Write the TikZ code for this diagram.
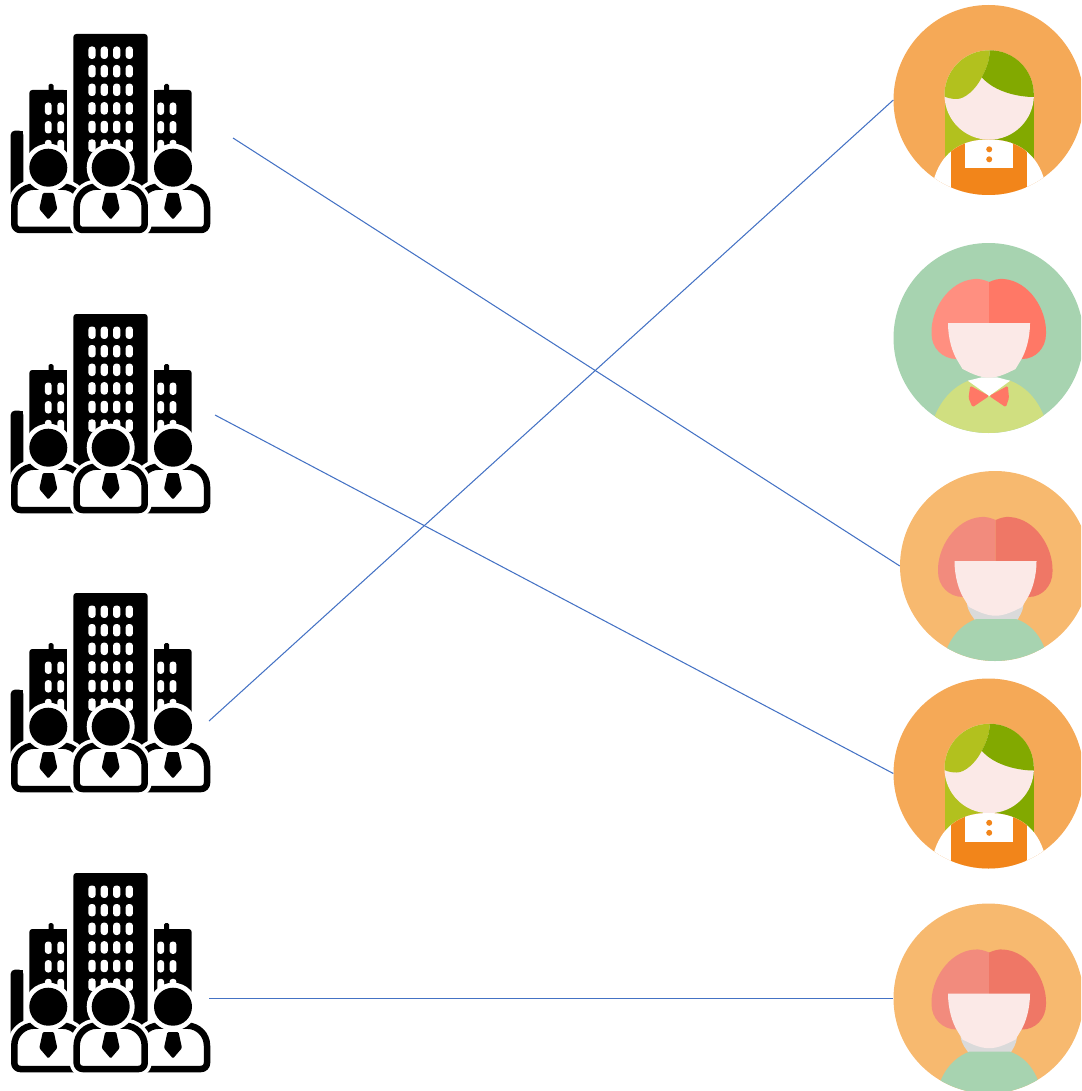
\documentclass[tikz,border=0pt]{standalone}
\usetikzlibrary{calc}
\definecolor{linkblue}{HTML}{4472C4}
\definecolor{discA}{HTML}{F5A957}
\definecolor{discB}{HTML}{A7D3B0}
\definecolor{discC}{HTML}{F7B96F}
\definecolor{hairAl}{HTML}{B2C11E}
\definecolor{hairAr}{HTML}{82A900}
\definecolor{apron}{HTML}{F2851A}
\definecolor{faceA}{HTML}{FBE9E7}
\definecolor{hairBl}{HTML}{FF8F80}
\definecolor{hairBr}{HTML}{FF7866}
\definecolor{hairCl}{HTML}{F28B7D}
\definecolor{hairCr}{HTML}{EF7766}
\definecolor{vest}{HTML}{D0DF80}
\definecolor{neckgray}{HTML}{DADADA}
\tikzset{
  x=1pt,y=-1pt,
  disc/.style={circle,inner sep=0pt,minimum size=190pt,draw=none},
  link/.style={draw=linkblue,line width=1.05pt},
  win/.style={fill=white,rounded corners=3pt},
  tower/.style={fill=black},
  halo/.style={draw=white,fill=white,line width=14pt,line join=round},
  suit/.style={draw=black,fill=white,line width=6.5pt,line join=round}
}
\newcommand{\bodypath}[1]{(#1-34,206.6) arc[start angle=180,end angle=270,radius=20] -- (#1+14,186.6) arc[start angle=270,end angle=360,radius=20] -- (#1+34,224) arc[start angle=0,end angle=90,radius=6] -- (#1-28,230) arc[start angle=90,end angle=180,radius=6] -- cycle}
\newcommand{\tiepath}[1]{[rounded corners=1.2pt] (#1-5.5,193) -- (#1+5.5,193) -- (#1+9,209) -- (#1,219.5) -- (#1-9,209) -- cycle}
\newcommand{\companyicon}[1]{%
\begin{scope}[shift={(0,#1)}]
  \fill[tower,rounded corners=3pt] (73.3,200) -- (73.3,34) -- (147.7,34) -- (147.7,200) -- cycle;
  \fill[tower,rounded corners=3pt] (29.3,170) -- (29.3,90) -- (66.7,90) [sharp corners] -- (66.7,170) -- cycle;
  \fill[tower] (66.7,90) rectangle (60,170);
  \fill[tower,rounded corners=3pt] (191.7,170) -- (191.7,90) -- (154.3,90) [sharp corners] -- (154.3,170) -- cycle;
  \fill[tower] (154.3,90) rectangle (161,170);
  \fill[tower,rounded corners=1.5pt] (48.5,92) -- (48.5,84) -- (53.5,84) -- (53.5,92) -- cycle;
  \fill[tower,rounded corners=1.5pt] (164.2,92) -- (164.2,84) -- (169.2,84) -- (169.2,92) -- cycle;
  \fill[tower,rounded corners=4pt] (10.7,200) -- (10.7,130.7) -- (23.3,130.7) [sharp corners] -- (23.3,200) -- cycle;
  \fill[tower] (17,130.7) rectangle (23.3,200);
  \foreach \wx in {92,104.3,116.7,129.3}
    \foreach \wy in {52.7,71.2,89.8,108.4,127,145.6}
      \fill[win] (\wx-3.6,\wy-6.2) rectangle (\wx+3.6,\wy+6.2);
  \foreach \wx in {48.3,60.7,160.7,173}
    \foreach \wy in {108.7,127.3,146}
      \fill[win] (\wx-3.4,\wy-6.2) rectangle (\wx+3.4,\wy+6.2);
  \draw[halo] \bodypath{48.3};
  \draw[halo] \bodypath{173};
  \draw[suit] \bodypath{48.3};
  \draw[suit] \bodypath{173};
  \draw[halo] \bodypath{110.7};
  \draw[suit] \bodypath{110.7};
  \foreach \hx in {48.3,110.7,173} {
    \fill[white] (\hx,167.7) circle[radius=24];
    \fill[black] (\hx,167.7) circle[radius=19];
    \fill[black] \tiepath{\hx};
  }
\end{scope}}
\newcommand{\avatarA}[2]{%
\begin{scope}[shift={(#1,#2)}]
  \begin{scope}
    \clip (0,0) circle[radius=95];
    \fill[hairAl] (-44,-5) rectangle (1,66);
    \fill[hairAr] (1,-5) rectangle (45.3,66);
    \fill[faceA] (0.7,-5) circle[radius=44.7];
    \fill[white] (-54,77) .. controls (-45,50) and (-25,39.5) .. (0,39.5) .. controls (25,39.5) and (46,50) .. (55,77) -- (62,110) -- (-62,110) -- cycle;
    \begin{scope}
      \clip (-54,77) .. controls (-45,50) and (-25,39.5) .. (0,39.5) .. controls (25,39.5) and (46,50) .. (55,77) -- (62,110) -- (-62,110) -- cycle;
      \fill[apron] (-37.3,30) rectangle (38.7,100);
      \fill[white] (-23.3,30) rectangle (24,68.3);
    \end{scope}
    \fill[apron] (0.7,49.3) circle[radius=3];
    \fill[apron] (0.7,59.3) circle[radius=3];
    \fill[hairAl] (-44,-5) arc[start angle=180,end angle=270,radius=44.7] -- (1.3,-49.7) .. controls (1,-38) and (-3,-30) .. (-6.7,-22.7) .. controls (-13,-10) and (-24,-1) .. (-31.7,-1) .. controls (-37,-1) and (-41,-2) .. (-44,-3.5) -- cycle;
    \fill[hairAr] (1.3,-49.7) arc[start angle=270,end angle=360,radius=44.0] -- (45.3,-3) .. controls (30,-3) and (6,-8) .. (-6.7,-22.7) .. controls (-3,-30) and (1,-38) .. (1.3,-49.7) -- cycle;
  \end{scope}
\end{scope}}
\newcommand{\bobhair}[2]{%
  \fill[#1] (0.7,-46) .. controls (-4,-48) and (-9,-49.5) .. (-14,-49) .. controls (-40,-47) and (-58,-18) .. (-57,5.7) .. controls (-57,20) and (-46,31) .. (-32,31) -- (0.7,31) -- cycle;
  \fill[#2] (0.7,-46) .. controls (5,-48) and (10,-49.5) .. (15,-49) .. controls (41,-47) and (58.5,-18) .. (57.5,5.7) .. controls (57.5,20) and (47,31) .. (33.7,31) -- (0.7,31) -- cycle;
  \fill[faceA] (-40.5,-5) -- (41.5,-5) .. controls (41.5,11) and (37,24) .. (33,31) -- (27,41) .. controls (19,45) and (10,49.7) .. (0.7,49.7) .. controls (-9,49.7) and (-18,45) .. (-26,41) -- (-32,31) .. controls (-36,24) and (-40.5,11) .. (-40.5,-5) -- cycle;}
\newcommand{\avatarC}[2]{%
\begin{scope}[shift={(#1,#2)}]
  \begin{scope}
    \clip (0,0) circle[radius=95];
    \fill[neckgray] (-28,38) .. controls (-27,46) and (-22,51) .. (-18.7,56) -- (21,56) .. controls (24,51) and (28,46) .. (28.5,38) -- cycle;
    \fill[discB] (-47.7,81.7) .. controls (-41,66) and (-30,57) .. (-18.7,53) -- (21,53) .. controls (33,57) and (43,66) .. (49,80.7) -- (60,110) -- (-60,110) -- cycle;
    \bobhair{hairCl}{hairCr}
  \end{scope}
\end{scope}}
\newcommand{\avatarB}[2]{%
\begin{scope}[shift={(#1,#2)}]
  \begin{scope}
    \clip (0,0) circle[radius=95];
    \fill[vest] (-53.3,77) .. controls (-46,60) and (-34,48) .. (-20,42.7) -- (21.7,42.7) .. controls (36,48) and (48,60) .. (55,77) -- (62,110) -- (-62,110) -- cycle;
    \fill[white] (-20.7,42.7) -- (-6.7,39.3) -- (8.3,39.3) -- (21.7,42.7) -- (0.7,58) -- cycle;
    \fill[hairBr,rounded corners=1.5pt] (0.7,58) -- (-18.3,47.7) -- (-20,60) -- (-16,69.3) -- cycle;
    \fill[hairBr,rounded corners=1.5pt] (0.7,58) -- (19.3,47.7) -- (20.5,60) -- (17.3,69.3) -- cycle;
    \begin{scope}[yshift=10pt]
      \bobhair{hairBl}{hairBr}
    \end{scope}
  \end{scope}
\end{scope}}
\begin{document}
\begin{tikzpicture}
  \useasboundingbox (0,0) rectangle (1081,1091);
  \clip (0,0) rectangle (1081,1091);
  \companyicon{0}
  \companyicon{280}
  \companyicon{559}
  \companyicon{839}
  \node[disc,fill=discA] (p1) at (988.5,100) {};
  \node[disc,fill=discB] (p2) at (988.5,338) {};
  \node[disc,fill=discC] (p3) at (995,566) {};
  \node[disc,fill=discA] (p4) at (988.5,773.5) {};
  \node[disc,fill=discC] (p5) at (988.5,998.5) {};
  \avatarA{988.5}{100}
  \avatarB{988.5}{338}
  \avatarC{995}{566}
  \avatarA{988.5}{773.5}
  \avatarC{988.5}{998.5}
  \coordinate (c1) at (233,138);
  \coordinate (c2) at (215,415);
  \coordinate (c3) at (209,721);
  \coordinate (c4) at (209,998.5);
  \draw[link] (c1) -- (p3.west);
  \draw[link] (c2) -- (p4.west);
  \draw[link] (c3) -- (p1.west);
  \draw[link] (c4) -- (p5.west);
\end{tikzpicture}
\end{document}
